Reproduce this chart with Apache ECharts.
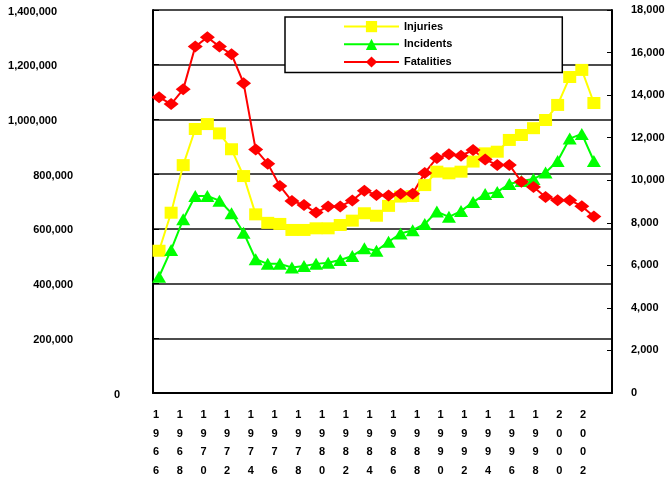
<!DOCTYPE html>
<html>
<head>
<meta charset="utf-8">
<script src="https://cdn.jsdelivr.net/npm/echarts@6/dist/echarts.min.js"></script>
<style>html,body{margin:0;padding:0;background:#fff;}#c{width:668px;height:480px;}</style>
</head>
<body>
<div id="c"></div>
<script>
var years = ['1966','1967','1968','1969','1970','1971','1972','1973','1974','1975','1976','1977','1978','1979','1980','1981','1982','1983','1984','1985','1986','1987','1988','1989','1990','1991','1992','1993','1994','1995','1996','1997','1998','1999','2000','2001','2002','2003'];
var tickLabels = ['1966','1968','1970','1972','1974','1976','1978','1980','1982','1984','1986','1988','1990','1992','1994','1996','1998','2000','2002'];
var injuries = [520000,659000,833000,965000,983000,949000,891000,793000,653000,622000,618000,596000,596000,602000,602000,614000,630000,657000,648000,684000,718000,720000,760000,809000,803000,809000,846000,876000,882000,925000,943000,968000,998000,1053000,1155000,1181000,1060000];
var incidents = [425000,523000,635000,720000,720000,703000,657000,586000,489000,472000,472000,459000,464000,472000,476000,486000,501000,529000,520000,553000,583000,595000,618000,663000,644000,665000,698000,727000,735000,764000,775000,782000,806000,848000,930000,947000,848000];
var fatalities = [13900,13580,14270,16280,16720,16280,15920,14560,11440,10780,9730,9020,8840,8480,8770,8770,9050,9510,9310,9280,9370,9370,10340,11050,11220,11150,11420,10970,10720,10720,9930,9680,9210,9060,9060,8780,8300];

var FONT = 'Liberation Sans, Arial, sans-serif';
var chart = echarts.init(document.getElementById('c'));
chart.setOption({
  animation: false,
  backgroundColor: '#fff',
  textStyle: {fontFamily: FONT},
  grid: [
    {left: 153, right: 56, top: 10, bottom: 87},
    {left: 156, right: 85, top: 10, bottom: 87}
  ],
  legend: {
    data: ['Injuries', 'Incidents', 'Fatalities'],
    orient: 'vertical',
    left: 285, top: 17,
    padding: [4, 110, 5, 58],
    itemWidth: 55, itemHeight: 14, itemGap: 6.5,
    backgroundColor: '#fff',
    borderColor: '#000', borderWidth: 1.5,
    textStyle: {fontFamily: FONT, fontSize: 11, fontWeight: 'bold', color: '#000'}
  },
  xAxis: [
    {
      type: 'category', gridIndex: 0, data: years, boundaryGap: true,
      axisLine: {lineStyle: {color: '#000', width: 2}},
      axisTick: {inside: true, length: 3, interval: 0, lineStyle: {color: '#000'}},
      axisLabel: {show: false}
    },
    {
      type: 'category', gridIndex: 1, data: tickLabels, boundaryGap: false,
      axisLine: {show: false}, axisTick: {show: false},
      axisLabel: {
        interval: 0, margin: 13, fontFamily: FONT, fontSize: 11, fontWeight: 'bold', color: '#000',
        lineHeight: 18.5,
        formatter: function (v) { return v.split('').join('\n'); }
      }
    }
  ],
  yAxis: [
    {
      type: 'value', gridIndex: 0, min: 0, max: 1400000, interval: 200000, position: 'left',
      axisLine: {show: true, lineStyle: {color: '#000', width: 2}},
      axisTick: {show: true, inside: true, length: 6, lineStyle: {color: '#000'}},
      splitLine: {show: true, lineStyle: {color: '#111', width: 1.5}},
      axisLabel: {
        margin: 33, padding: [3, 0, 0, 0], fontFamily: FONT, fontSize: 11, fontWeight: 'bold', color: '#000',
        formatter: function (v) {
          var s = v.toLocaleString('en-US');
          if (v >= 1000000) return '{big|' + s + '}';
          if (v > 0) return '{mid|' + s + '}';
          return s;
        },
        rich: {
          big: {padding: [0, 63, 0, 0], fontFamily: FONT, fontSize: 11, fontWeight: 'bold', color: '#000'},
          mid: {padding: [0, 47, 0, 0], fontFamily: FONT, fontSize: 11, fontWeight: 'bold', color: '#000'}
        }
      }
    },
    {
      type: 'value', gridIndex: 0, min: 0, max: 18000, interval: 2000, position: 'right',
      axisLine: {show: true, lineStyle: {color: '#000', width: 2}},
      axisTick: {show: true, inside: true, length: 5, lineStyle: {color: '#000'}},
      splitLine: {show: false},
      axisLabel: {
        margin: 19, padding: [5, 0, 0, 0], fontFamily: FONT, fontSize: 11, fontWeight: 'bold', color: '#000',
        formatter: function (v) { return v.toLocaleString('en-US'); }
      }
    },
    {
      type: 'value', gridIndex: 1, show: false, min: 0, max: 1
    }
  ],
  series: [
    {
      name: 'Injuries', type: 'line', xAxisIndex: 0, yAxisIndex: 0, data: injuries,
      symbol: 'rect', symbolSize: [13, 12], showAllSymbol: true,
      itemStyle: {color: '#FFFF00'}, lineStyle: {color: '#FFFF00', width: 2}
    },
    {
      name: 'Incidents', type: 'line', xAxisIndex: 0, yAxisIndex: 0, data: incidents,
      symbol: 'triangle', symbolSize: [14, 12], showAllSymbol: true,
      itemStyle: {color: '#00FF00'}, lineStyle: {color: '#00FF00', width: 2}
    },
    {
      name: 'Fatalities', type: 'line', xAxisIndex: 0, yAxisIndex: 1, data: fatalities,
      symbol: 'diamond', symbolSize: [15, 12], showAllSymbol: true,
      itemStyle: {color: '#FF0000'}, lineStyle: {color: '#FF0000', width: 2}
    }
  ]
});
</script>
</body>
</html>
